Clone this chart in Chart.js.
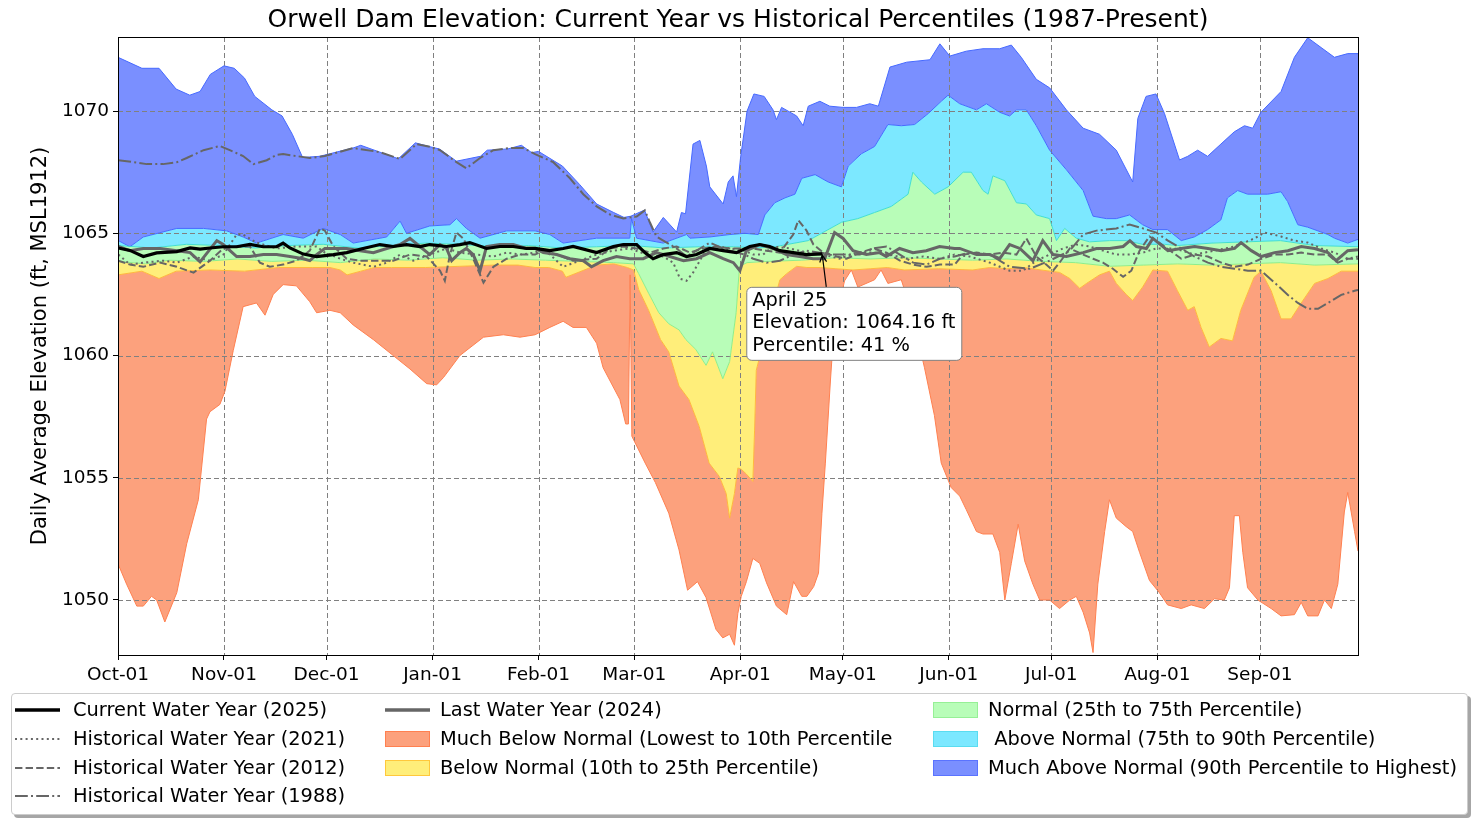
<!DOCTYPE html>
<html lang="en">
<head>
<meta charset="UTF-8">
<title>Orwell Dam Elevation</title>
<script src="https://cdn.jsdelivr.net/npm/chart.js"></script>
<style>
  body { margin: 0; background: #fff; font-family: 'DejaVu Sans', sans-serif; }
  .wrap { position: relative; width: 1476px; height: 824px; }
  #legenda {
    position: absolute; left: 11px; top: 693px; width: 1455px; height: 120px;
    border: 1px solid #ccc; border-radius: 4px; background: #fff;
    box-shadow: 3px 3px 0 rgba(0, 0, 0, 0.35);
  }
  .item-simbolo { position: absolute; }
  .item-texto { position: absolute; font-size: 19.4px; line-height: 22px; white-space: pre; color: #000; }
</style>
</head>
<body>
<div class="wrap">
  <canvas id="grafico" width="1476" height="824"></canvas>
  <div id="legenda"></div>
</div>
<script>
// x values are days since Oct-01 of the water year
const monthDays = [0, 31, 61, 92, 123, 151, 182, 212, 243, 273, 304, 334];
const monthLabels = ['Oct-01', 'Nov-01', 'Dec-01', 'Jan-01', 'Feb-01', 'Mar-01', 'Apr-01', 'May-01', 'Jun-01', 'Jul-01', 'Aug-01', 'Sep-01'];
const yTicks = [1050, 1055, 1060, 1065, 1070];

// historical percentile curves
const minDays = [0.1, 2.5, 5.5, 7.4, 9.8, 11.3, 13.7, 17.2, 20.1, 23.5, 25.9, 26.9, 29.8, 31.3, 33.7, 36.6, 40.5, 43, 45.4, 48.3, 52.2, 56.1, 58.1, 62, 65, 68.8, 74.7, 80.5, 85.4, 90.3, 93.2, 95.2, 100, 106.9, 112.7, 117.6, 122, 126.3, 130.2, 133.1, 137, 140, 141.9, 146.8, 148.5, 149.3, 149.8, 150.3, 154.2, 157.2, 161.1, 164.1, 166.6, 169.5, 172, 174.9, 176.9, 178.9, 180.3, 181.3, 182.3, 183.8, 185.7, 187.7, 189.7, 192.6, 195.6, 197.6, 200, 201.5, 203.5, 204.9, 205.9, 206.9, 208.4, 209.4, 210.6, 212.5, 214.5, 216.4, 221.3, 223.2, 225.2, 229.1, 232, 235.9, 238.8, 240.8, 243.7, 246.2, 248.1, 251.1, 253, 255.9, 257.9, 259.4, 261.3, 263.3, 265.2, 267.6, 269.6, 272.5, 275.4, 278.4, 280.3, 282.3, 284.2, 285.2, 286.6, 288.6, 290, 292, 294.9, 296.8, 298.8, 301.7, 304.6, 307, 311, 313.9, 317.8, 320.7, 323.6, 325.1, 326.5, 328, 329, 330.4, 333.4, 337.3, 340.2, 344.1, 346.1, 348, 351, 352.9, 354.9, 356.8, 358.7, 359.7, 361.7, 362.7];
const minVals = [1051.45, 1050.65, 1049.75, 1049.75, 1050.15, 1050.0, 1049.1, 1050.3, 1052.3, 1054.1, 1057.4, 1057.7, 1058.0, 1058.55, 1060.2, 1062.0, 1062.15, 1061.65, 1062.5, 1062.9, 1062.85, 1062.2, 1061.75, 1061.85, 1061.75, 1061.25, 1060.65, 1060.0, 1059.45, 1058.85, 1058.8, 1059.1, 1060.0, 1060.75, 1060.85, 1060.75, 1060.85, 1061.15, 1061.4, 1061.15, 1061.15, 1060.5, 1059.5, 1058.2, 1057.2, 1057.2, 1063.3, 1056.7, 1055.6, 1054.8, 1053.55, 1052.05, 1050.4, 1050.75, 1050.1, 1048.8, 1048.45, 1048.6, 1048.15, 1049.45, 1050.15, 1050.75, 1051.7, 1051.5, 1050.7, 1049.75, 1049.4, 1050.75, 1050.15, 1050.15, 1050.55, 1051.1, 1053.55, 1055.6, 1059.0, 1061.05, 1061.85, 1063.05, 1063.5, 1062.8, 1063.1, 1063.5, 1062.95, 1063.1, 1061.85, 1059.5, 1057.55, 1055.6, 1054.6, 1054.25, 1053.7, 1052.8, 1052.7, 1052.7, 1051.95, 1050.0, 1051.5, 1053.1, 1051.6, 1050.65, 1050.0, 1050.0, 1049.65, 1050.0, 1050.15, 1049.5, 1048.65, 1047.85, 1050.65, 1052.8, 1054.1, 1053.35, 1053.0, 1052.8, 1051.95, 1050.8, 1050.3, 1049.8, 1049.65, 1049.8, 1049.65, 1050.05, 1050.0, 1050.5, 1053.45, 1053.45, 1051.95, 1050.5, 1050.0, 1049.65, 1049.35, 1049.4, 1049.9, 1049.35, 1049.35, 1050.0, 1049.65, 1050.65, 1053.6, 1054.4, 1052.8, 1052.0];

const p10Days = [0, 7, 12, 17, 27, 37, 47, 57, 62, 65, 67, 71, 75, 80, 90, 100, 110, 117, 122, 126, 130, 131, 140, 145, 149, 150.8, 152.3, 155.2, 158.7, 161.1, 164.1, 167, 170, 172.9, 175.9, 177.9, 178.9, 180.3, 181.3, 182.3, 183.8, 185.7, 186.2, 186.7, 187.7, 189.7, 193.6, 195.6, 198.5, 201.5, 205.4, 210, 215, 220, 225, 230, 240, 250, 255, 260, 265, 270, 275.4, 278.4, 281.3, 283.3, 287.1, 290, 292, 294.9, 296.8, 299.7, 302.7, 307, 309.9, 312.9, 314.8, 316.8, 319.2, 322.6, 326, 328.4, 332.3, 334.3, 337.3, 340.2, 343.1, 346.1, 350, 353.9, 357.8, 362.7];
const p10Vals = [1063.3, 1063.45, 1063.15, 1063.45, 1063.5, 1063.45, 1063.6, 1063.6, 1063.6, 1063.5, 1063.3, 1063.45, 1063.6, 1063.6, 1063.6, 1063.65, 1063.7, 1063.7, 1063.6, 1063.6, 1063.45, 1063.2, 1063.7, 1063.75, 1063.6, 1063.5, 1062.7, 1061.85, 1060.65, 1060.15, 1058.75, 1058.2, 1057.1, 1055.6, 1055.05, 1054.35, 1053.35, 1054.35, 1055.4, 1055.35, 1055.15, 1054.85, 1056.95, 1059.4, 1059.95, 1061.05, 1063.1, 1063.35, 1063.65, 1063.6, 1063.6, 1063.55, 1063.5, 1063.55, 1063.6, 1063.5, 1063.55, 1063.5, 1063.6, 1063.55, 1063.6, 1063.5, 1063.4, 1063.15, 1062.75, 1062.95, 1063.3, 1063.45, 1062.95, 1062.5, 1062.25, 1062.8, 1063.5, 1063.45, 1062.65, 1061.85, 1062.0, 1061.15, 1060.35, 1060.7, 1060.6, 1061.85, 1063.2, 1063.45, 1062.65, 1061.5, 1061.5, 1062.15, 1062.95, 1063.15, 1063.45, 1063.45];

const p25Days = [0, 8, 15, 25, 35, 45, 55, 65, 75, 85, 95, 105, 115, 125, 135, 145, 150.8, 152.3, 155.2, 158.2, 161.1, 164.1, 166.1, 169, 172, 173.9, 176.9, 178.9, 180.8, 181.8, 184, 190, 200, 210, 220, 230, 240, 250, 260, 270, 280, 290, 300, 310, 320, 330, 340, 350, 362.7];
const p25Vals = [1063.85, 1063.75, 1063.9, 1063.85, 1063.95, 1063.85, 1063.9, 1063.8, 1063.95, 1063.9, 1064.0, 1063.9, 1063.95, 1063.9, 1063.85, 1063.8, 1063.75, 1063.35, 1062.55, 1061.75, 1061.3, 1061.05, 1060.65, 1060.25, 1059.6, 1060.15, 1059.05, 1059.75, 1061.75, 1063.65, 1063.8, 1063.85, 1063.9, 1064.0, 1063.95, 1064.0, 1063.95, 1063.9, 1063.95, 1063.85, 1063.8, 1063.65, 1063.7, 1063.75, 1063.7, 1063.75, 1063.8, 1063.7, 1063.75];

const p75Days = [0, 10, 20, 30, 40, 50, 60, 70, 80, 90, 100, 110, 120, 130, 140, 150, 160, 170, 180, 187, 192.1, 201.9, 211.6, 216.4, 221.3, 226.2, 231.1, 232.5, 235, 238.9, 242.8, 247.2, 249.6, 253, 254.5, 255.9, 259.4, 262.8, 265.7, 268.6, 272.5, 274.5, 276.9, 280.3, 284.2, 290, 294.9, 299.7, 306.1, 310, 320, 330, 340, 350, 362.7];
const p75Vals = [1064.5, 1064.4, 1064.55, 1064.5, 1064.4, 1064.5, 1064.55, 1064.4, 1064.5, 1064.6, 1064.55, 1064.45, 1064.5, 1064.4, 1064.45, 1064.5, 1064.4, 1064.45, 1064.45, 1064.4, 1064.45, 1064.7, 1065.45, 1065.6, 1065.85, 1066.1, 1066.6, 1067.5, 1067.1, 1066.6, 1066.9, 1067.5, 1067.5, 1066.75, 1066.6, 1067.35, 1067.15, 1066.25, 1066.2, 1065.75, 1065.6, 1064.7, 1065.2, 1064.8, 1064.65, 1064.7, 1064.7, 1064.55, 1064.55, 1064.5, 1064.6, 1064.65, 1064.7, 1064.5, 1064.45];

const p90Days = [0.1, 3.5, 7.4, 17.2, 25, 31.8, 36.6, 40.5, 48.3, 54.2, 60, 65, 68.8, 78.6, 82.5, 84.4, 91.2, 97.1, 99, 101.9, 105.9, 113.7, 122, 126.3, 130.2, 140, 149.7, 150.2, 151.7, 159.5, 166.3, 167.3, 173.1, 179, 183.3, 187.3, 189.2, 192.1, 195.1, 198, 200, 203.9, 207.7, 211.6, 213.6, 217.4, 221.3, 225.2, 229.1, 233, 237, 240.8, 242.8, 246.2, 251.1, 254, 257.9, 260.8, 262.8, 265.7, 268.6, 272.5, 277.4, 282.3, 285.2, 289.1, 292, 295.9, 299.7, 302.7, 307, 311, 314.8, 318.7, 322.6, 324.5, 327.5, 330.4, 336.3, 340.2, 342.1, 345.1, 348, 353.9, 355.8, 359.7, 362.7];
const p90Vals = [1064.7, 1064.45, 1064.85, 1065.2, 1065.2, 1065.1, 1064.85, 1064.6, 1064.95, 1064.8, 1065.2, 1064.95, 1064.6, 1064.85, 1065.5, 1065.0, 1065.3, 1065.35, 1065.6, 1065.2, 1064.8, 1065.1, 1065.1, 1064.95, 1064.6, 1064.8, 1064.8, 1065.6, 1064.8, 1064.6, 1064.95, 1064.8, 1064.85, 1064.95, 1065.0, 1064.95, 1065.75, 1066.25, 1066.45, 1066.6, 1067.25, 1067.4, 1067.1, 1066.9, 1067.75, 1068.25, 1068.55, 1069.45, 1069.4, 1069.45, 1069.9, 1070.4, 1070.65, 1070.3, 1070.05, 1070.3, 1069.95, 1069.8, 1070.05, 1070.05, 1069.4, 1068.4, 1067.6, 1066.75, 1065.7, 1065.6, 1065.6, 1065.75, 1065.35, 1065.15, 1065.15, 1064.7, 1064.85, 1065.15, 1065.55, 1066.45, 1066.75, 1066.6, 1066.6, 1066.7, 1066.3, 1065.35, 1065.25, 1064.95, 1064.8, 1064.6, 1064.75];

const maxDays = [0, 7, 12, 17, 21, 24, 27, 31, 34, 37, 40, 45, 48, 51, 54, 59, 69, 71, 77, 82, 87, 91, 94, 99, 106, 108, 114, 118, 121, 123, 130, 135, 140, 145, 148, 150, 154, 156.5, 159.5, 163.4, 164.8, 166, 168.2, 170.2, 172.1, 173.1, 177, 178.5, 179.9, 180.9, 182.1, 184, 186, 189, 191.6, 192.6, 194.1, 198.5, 200.4, 201.9, 205.3, 208.2, 212.1, 216, 219.9, 222.4, 225.8, 230.7, 237.5, 240.4, 243.3, 248.1, 253, 257.9, 261.3, 264.2, 268.6, 272.5, 277.4, 282.3, 287.1, 292, 296.8, 298.3, 300.7, 303.6, 306.1, 310.5, 312.9, 315.8, 318.7, 322.6, 326.5, 329.5, 331.9, 334.3, 340.2, 344.1, 348, 351.9, 355.8, 359.7, 362.7];
const maxVals = [1072.2, 1071.75, 1071.75, 1070.9, 1070.65, 1070.8, 1071.5, 1071.85, 1071.75, 1071.35, 1070.6, 1070.05, 1069.8, 1069.05, 1068.1, 1068.15, 1068.5, 1068.6, 1068.3, 1068.05, 1068.7, 1068.55, 1068.45, 1067.95, 1068.15, 1068.4, 1068.45, 1068.6, 1068.3, 1068.35, 1067.75, 1067.0, 1066.2, 1065.85, 1065.65, 1065.7, 1065.95, 1065.05, 1065.65, 1065.05, 1065.85, 1065.8, 1068.65, 1068.8, 1067.75, 1066.9, 1066.2, 1067.1, 1067.35, 1066.5, 1068.1, 1070.0, 1070.7, 1070.6, 1070.05, 1069.65, 1070.15, 1069.8, 1069.4, 1070.2, 1070.4, 1070.2, 1070.15, 1070.15, 1070.3, 1070.2, 1071.8, 1072.0, 1072.1, 1072.75, 1072.25, 1072.45, 1072.55, 1072.55, 1072.7, 1072.2, 1071.3, 1070.95, 1070.05, 1069.3, 1069.05, 1068.4, 1067.1, 1069.7, 1070.6, 1070.7, 1069.9, 1068.0, 1068.15, 1068.4, 1068.15, 1068.65, 1069.15, 1069.4, 1069.3, 1069.95, 1070.8, 1072.2, 1073.0, 1072.6, 1072.2, 1072.35, 1072.35];

// water years
const curDays = [0, 3.5, 7.4, 11.3, 17.2, 21.1, 24, 26.9, 30.8, 34.7, 38.6, 42.5, 46.4, 48.3, 50.3, 54.2, 58.1, 63, 66.9, 71.7, 76.6, 80.5, 84.4, 88.3, 91.2, 96.1, 100, 102.9, 107.8, 111.7, 115.6, 119.5, 122, 126.3, 130.2, 133.1, 140, 144.9, 147.8, 151.7, 154.1, 156.5, 159.5, 163.4, 166.3, 169.2, 173.1, 177, 180.9, 184.8, 187.7, 190.6, 193.6, 197.5, 201.4, 206];
const curVals = [1064.4, 1064.3, 1064.05, 1064.2, 1064.25, 1064.4, 1064.35, 1064.4, 1064.45, 1064.45, 1064.55, 1064.45, 1064.45, 1064.6, 1064.4, 1064.15, 1064.05, 1064.13, 1064.21, 1064.38, 1064.54, 1064.46, 1064.54, 1064.46, 1064.54, 1064.46, 1064.54, 1064.62, 1064.38, 1064.46, 1064.46, 1064.38, 1064.38, 1064.29, 1064.38, 1064.46, 1064.21, 1064.46, 1064.54, 1064.54, 1064.21, 1063.96, 1064.13, 1064.21, 1064.05, 1064.13, 1064.38, 1064.29, 1064.21, 1064.46, 1064.54, 1064.46, 1064.29, 1064.21, 1064.13, 1064.16];

const lastDays = [0.1, 3.5, 7.4, 12.3, 17.2, 21.1, 24, 28.9, 30.8, 34.7, 38.6, 42.5, 46.4, 50.3, 54.2, 56.1, 58.1, 60.5, 63, 66.9, 70.8, 74.7, 78.6, 82.5, 85.4, 88.3, 91.2, 94.2, 96.1, 97.6, 100, 101.9, 103.9, 105.9, 107.8, 111.7, 115.6, 119.5, 122, 124.4, 128.3, 132.2, 136.1, 138.5, 141.9, 145.8, 149.7, 153.6, 157.5, 161.4, 165.4, 169.2, 173.1, 177, 180, 181.9, 183.8, 187.7, 191.6, 195.5, 199.4, 203.3, 206.7, 209.6, 212.1, 215, 218.9, 222.8, 224.7, 228.6, 232.5, 236.4, 240.3, 244.7, 246.2, 251.1, 255, 257.9, 260.8, 263.8, 267.6, 270.5, 273.5, 277.4, 282.3, 286.2, 290.1, 294, 296, 297.9, 300.8, 302.7, 307.1, 311, 314.9, 318.8, 322.7, 326.6, 328.5, 331.5, 334.4, 338.3, 342.2, 346.1, 350, 353.9, 356.3, 359.7, 362.7];
const lastVals = [1064.46, 1064.29, 1064.38, 1064.38, 1064.29, 1064.21, 1063.83, 1064.7, 1064.54, 1064.05, 1064.05, 1064.13, 1064.13, 1064.05, 1063.96, 1063.88, 1064.13, 1064.38, 1064.38, 1064.38, 1064.29, 1064.21, 1064.38, 1064.54, 1064.79, 1064.46, 1064.13, 1064.54, 1064.38, 1063.88, 1064.21, 1064.38, 1064.13, 1063.47, 1064.46, 1064.54, 1064.54, 1064.38, 1064.38, 1064.21, 1064.13, 1063.96, 1063.88, 1063.63, 1063.88, 1064.05, 1063.96, 1063.96, 1064.21, 1064.05, 1063.88, 1063.96, 1064.21, 1063.96, 1063.8, 1063.47, 1064.29, 1064.54, 1064.38, 1064.13, 1064.05, 1063.96, 1063.96, 1065.03, 1064.79, 1064.29, 1064.13, 1064.21, 1064.05, 1064.38, 1064.21, 1064.29, 1064.46, 1064.38, 1064.38, 1064.13, 1064.13, 1063.96, 1064.54, 1064.38, 1063.88, 1064.7, 1064.13, 1064.05, 1064.21, 1064.38, 1064.38, 1064.46, 1064.7, 1064.46, 1064.38, 1064.79, 1064.29, 1064.38, 1064.46, 1064.38, 1064.29, 1064.38, 1064.62, 1064.29, 1064.05, 1064.21, 1064.29, 1064.46, 1064.38, 1064.21, 1063.88, 1064.29, 1064.33];

const y2021Days = [0.1, 3.5, 7.4, 13.2, 17.2, 22.1, 26.9, 30.8, 34.7, 36.6, 40.5, 46.4, 52.2, 58.1, 60.5, 65, 68.8, 74.7, 78.6, 82.5, 86.4, 91.2, 96.1, 100, 104.9, 109.8, 113.7, 117.6, 122, 124.4, 130.2, 135.1, 140, 144.9, 149.7, 154.6, 159.5, 162.4, 164.4, 166.3, 168.2, 171.2, 175.1, 179, 183.3, 185.8, 188.7, 191.6, 196.5, 201.4, 206.3, 211.1, 216, 220.9, 225.8, 230.7, 235.5, 240.4, 244.7, 249.1, 255, 260.8, 264.7, 268.6, 272.5, 276.4, 280.3, 284.2, 288.1, 292, 295.9, 299.8, 303.7, 309, 314.9, 320.7, 326.6, 332.4, 335.4, 340.2, 344.1, 348, 351.9, 355.8, 359.7, 362.7];
const y2021Vals = [1064.13, 1063.72, 1063.8, 1063.88, 1063.8, 1064.05, 1063.88, 1064.13, 1064.95, 1064.95, 1064.62, 1064.38, 1064.46, 1064.46, 1064.21, 1063.96, 1063.8, 1063.63, 1063.8, 1064.13, 1063.88, 1064.13, 1064.38, 1064.21, 1064.13, 1064.05, 1064.21, 1064.13, 1064.21, 1064.38, 1063.63, 1063.88, 1064.13, 1064.29, 1064.38, 1064.13, 1064.05, 1063.8, 1063.14, 1063.06, 1063.39, 1064.13, 1064.46, 1064.38, 1064.29, 1064.13, 1064.13, 1064.46, 1064.38, 1064.21, 1064.13, 1063.96, 1064.21, 1064.21, 1064.13, 1063.96, 1064.05, 1063.96, 1064.13, 1064.05, 1063.8, 1063.47, 1063.47, 1063.88, 1064.13, 1064.38, 1064.54, 1064.46, 1064.29, 1064.13, 1064.13, 1064.21, 1064.38, 1064.38, 1064.13, 1064.29, 1064.46, 1064.79, 1065.03, 1064.87, 1064.7, 1064.62, 1064.38, 1064.21, 1063.96, 1064.05];

const y2012Days = [0.1, 3.5, 7.4, 12.3, 17.2, 22.1, 26.9, 30.8, 34.7, 38.6, 41.5, 44.4, 48.3, 52.2, 56.1, 59.1, 60.5, 63, 66.9, 70.8, 75.7, 80.5, 85.4, 90.3, 94.2, 95.6, 97.1, 99, 101, 103.9, 106.9, 109.8, 113.7, 117.6, 122, 124.4, 128.3, 133.1, 140, 143.9, 147.8, 151.7, 155.6, 159.5, 163.4, 167.3, 171.2, 175.1, 179, 183.3, 185.8, 189.7, 193.6, 197.5, 199, 201.4, 203.4, 206.3, 210.2, 213.1, 217, 220.9, 224.8, 228.7, 232.6, 236.5, 240.4, 244.7, 247.2, 251.1, 255, 258.9, 262.8, 265.7, 268.6, 271.5, 273.5, 275.4, 278.4, 282.3, 285.2, 288.1, 291, 294, 296.4, 298.8, 301.7, 303.7, 306.1, 311, 314.9, 318.8, 322.7, 326.6, 330.5, 334.4, 338.3, 342.2, 346.1, 350, 353.9, 356.8, 359.7, 362.7];
const y2012Vals = [1063.88, 1063.72, 1063.63, 1063.8, 1063.63, 1063.39, 1063.88, 1064.38, 1064.46, 1064.46, 1063.8, 1063.63, 1063.72, 1063.88, 1064.29, 1065.2, 1065.11, 1064.46, 1063.96, 1063.88, 1063.88, 1063.88, 1064.13, 1064.05, 1063.47, 1063.06, 1064.13, 1065.03, 1064.79, 1063.96, 1062.98, 1063.63, 1063.96, 1064.13, 1064.13, 1064.29, 1064.13, 1063.88, 1063.96, 1064.38, 1064.46, 1064.38, 1064.21, 1064.38, 1064.46, 1064.21, 1064.38, 1064.46, 1064.38, 1064.38, 1064.38, 1064.29, 1064.21, 1064.95, 1065.53, 1065.11, 1064.54, 1064.21, 1064.05, 1063.96, 1064.21, 1064.38, 1064.21, 1063.88, 1063.72, 1063.63, 1063.72, 1063.72, 1064.13, 1064.21, 1064.13, 1064.21, 1064.13, 1064.79, 1064.05, 1063.72, 1063.47, 1063.8, 1064.38, 1064.13, 1063.96, 1063.8, 1063.55, 1063.22, 1063.47, 1064.29, 1064.87, 1064.7, 1064.46, 1063.96, 1064.13, 1064.05, 1063.8, 1063.63, 1063.72, 1063.96, 1064.13, 1064.13, 1064.21, 1064.13, 1064.13, 1063.8, 1063.96, 1063.96];

const y1988Days = [0.1, 4.5, 8.4, 13.2, 17.2, 20.1, 25, 29.8, 32.7, 36.6, 39.6, 43.5, 46.4, 48.3, 52.2, 56.1, 60.5, 68.8, 76.6, 82.5, 87.3, 91.2, 94.2, 99, 101.9, 105.9, 109.8, 114.7, 118.5, 122, 127.3, 132.2, 136.1, 140, 143.9, 147.8, 151.7, 154.1, 155.6, 157.5, 160.5, 163.4, 166.3, 169.2, 173.1, 177, 180.9, 183.3, 185.8, 189.7, 193.6, 197.5, 201.4, 205.3, 209.2, 213.1, 217, 220.9, 224.8, 228.7, 232.6, 236.5, 240.4, 244.7, 249.1, 255, 260.8, 266.7, 272.5, 278.4, 282.3, 286.2, 292, 295.9, 299.8, 303.7, 307.1, 311, 314.9, 318.8, 322.7, 326.6, 330.5, 334.4, 338.3, 342.2, 345.1, 348.1, 351, 353.9, 357.8, 361.7, 362.7];
const y1988Vals = [1067.99, 1067.91, 1067.83, 1067.83, 1067.91, 1068.08, 1068.4, 1068.57, 1068.4, 1068.16, 1067.83, 1067.99, 1068.21, 1068.24, 1068.16, 1068.08, 1068.16, 1068.49, 1068.32, 1068.04, 1068.65, 1068.54, 1068.4, 1067.91, 1067.66, 1068.08, 1068.4, 1068.49, 1068.49, 1068.24, 1067.91, 1067.25, 1066.6, 1066.1, 1065.77, 1065.61, 1065.69, 1065.94, 1065.44, 1064.87, 1064.62, 1064.38, 1064.05, 1064.29, 1064.62, 1064.38, 1064.21, 1064.13, 1063.96, 1063.8, 1063.88, 1064.13, 1064.29, 1064.21, 1064.13, 1064.13, 1064.13, 1064.38, 1064.46, 1064.13, 1063.8, 1063.72, 1063.96, 1064.05, 1064.21, 1064.13, 1063.63, 1063.55, 1063.88, 1064.29, 1064.95, 1065.11, 1065.2, 1065.36, 1065.2, 1065.03, 1064.7, 1064.38, 1064.05, 1063.8, 1063.63, 1063.55, 1063.47, 1063.47, 1062.98, 1062.48, 1062.15, 1061.91, 1061.91, 1062.15, 1062.48, 1062.65, 1062.68];

// annotated point on the current year
const notaDia = 206;
const notaValor = 1064.16;
const notaLinhas = ['April 25', 'Elevation: 1064.16 ft', 'Percentile: 41 %'];

const FONTE = "'DejaVu Sans', 'Liberation Sans', sans-serif";
Chart.defaults.font.family = FONTE;
Chart.defaults.color = '#000';

function pontos(dias, valores) {
  return dias.map((d, i) => ({ x: d, y: valores[i] }));
}

const cinza = '#666666';

function linhaAno(label, dias, valores, cor, largura, dash) {
  return {
    label: label,
    data: pontos(dias, valores),
    borderColor: cor,
    borderWidth: largura,
    borderDash: dash,
    borderCapStyle: 'butt',
    pointRadius: 0,
    fill: false,
    tension: 0
  };
}

function faixa(label, dias, valores, borda, preenchimento) {
  return {
    label: label,
    data: pontos(dias, valores),
    borderColor: borda,
    borderWidth: 1,
    backgroundColor: preenchimento,
    pointRadius: 0,
    fill: preenchimento ? '-1' : false,
    tension: 0
  };
}

const datasets = [
  linhaAno('Current Water Year (2025)', curDays, curVals, '#000000', 3.2, []),
  linhaAno('Last Water Year (2024)', lastDays, lastVals, cinza, 3, []),
  linhaAno('Historical Water Year (2021)', y2021Days, y2021Vals, cinza, 2, [2, 3.3]),
  linhaAno('Historical Water Year (2012)', y2012Days, y2012Vals, cinza, 2, [7.4, 3.2]),
  linhaAno('Historical Water Year (1988)', y1988Days, y1988Vals, cinza, 2, [12.8, 3.2, 2, 3.2]),
  faixa('min', minDays, minVals, 'rgb(255,128,80)', null),
  faixa('Much Below Normal', p10Days, p10Vals, 'rgb(255,185,60)', 'rgb(252,161,125)'),
  faixa('Below Normal', p25Days, p25Vals, 'rgb(140,238,140)', 'rgb(255,238,122)'),
  faixa('Normal', p75Days, p75Vals, 'rgb(64,222,210)', 'rgb(184,253,184)'),
  faixa('Above Normal', p90Days, p90Vals, 'rgb(70,105,255)', 'rgb(124,232,255)'),
  faixa('Much Above Normal', maxDays, maxVals, 'rgb(70,105,255)', 'rgb(122,143,255)')
];

// grid above the filled bands, below the lines (matplotlib order)
const gradePlugin = {
  id: 'grade',
  beforeDatasetsDraw(chart) {
    const { ctx, chartArea, scales } = chart;
    ctx.save();
    ctx.strokeStyle = '#808080';
    ctx.lineWidth = 1;
    ctx.setLineDash([5, 3]);
    monthDays.forEach(d => {
      const x = Math.round(scales.x.getPixelForValue(d)) + 0.5;
      ctx.beginPath();
      ctx.moveTo(x, chartArea.top);
      ctx.lineTo(x, chartArea.bottom);
      ctx.stroke();
    });
    yTicks.forEach(v => {
      const y = Math.round(scales.y.getPixelForValue(v)) + 0.5;
      ctx.beginPath();
      ctx.moveTo(chartArea.left, y);
      ctx.lineTo(chartArea.right, y);
      ctx.stroke();
    });
    ctx.restore();
  }
};

const molduraPlugin = {
  id: 'moldura',
  afterDraw(chart) {
    const { ctx, chartArea, scales } = chart;
    ctx.save();
    // axes frame
    ctx.strokeStyle = '#000';
    ctx.lineWidth = 1;
    ctx.strokeRect(chartArea.left + 0.5, chartArea.top + 0.5, chartArea.right - chartArea.left, chartArea.bottom - chartArea.top);

    // title
    ctx.fillStyle = '#000';
    ctx.font = '25px ' + FONTE;
    ctx.textAlign = 'center';
    ctx.textBaseline = 'middle';
    ctx.fillText('Orwell Dam Elevation: Current Year vs Historical Percentiles (1987-Present)', (chartArea.left + chartArea.right) / 2, 20);

    // annotation with arrow
    const px = scales.x.getPixelForValue(notaDia);
    const py = scales.y.getPixelForValue(notaValor);
    const bx = px - 76, by = py + 33, bw = 215, bh = 73;
    ctx.beginPath();
    ctx.roundRect(bx + 0.5, by + 0.5, bw, bh, 5);
    ctx.fillStyle = '#fff';
    ctx.fill();
    ctx.strokeStyle = '#808080';
    ctx.stroke();

    ctx.strokeStyle = '#000';
    ctx.lineWidth = 1.2;
    ctx.beginPath();
    ctx.moveTo(px + 4, by);
    ctx.lineTo(px, py + 1);
    ctx.stroke();
    const ang = Math.atan2(py + 1 - by, px - (px + 4));
    ctx.beginPath();
    ctx.moveTo(px + 8 * Math.cos(ang + 2.7), py + 1 + 8 * Math.sin(ang + 2.7));
    ctx.lineTo(px, py + 1);
    ctx.lineTo(px + 8 * Math.cos(ang - 2.7), py + 1 + 8 * Math.sin(ang - 2.7));
    ctx.stroke();

    ctx.fillStyle = '#000';
    ctx.font = '19.4px ' + FONTE;
    ctx.textAlign = 'left';
    ctx.textBaseline = 'middle';
    notaLinhas.forEach((t, i) => ctx.fillText(t, bx + 6, by + 14 + i * 22.5));
    ctx.restore();
  }
};

const grafico = new Chart(document.getElementById('grafico'), {
  type: 'line',
  data: { datasets: datasets },
  options: {
    responsive: false,
    animation: false,
    devicePixelRatio: 1,
    layout: { padding: { top: 37, right: 118, bottom: 129, left: 0 } },
    plugins: {
      legend: { display: false },
      tooltip: { enabled: false },
      filler: { drawTime: 'beforeDatasetsDraw' }
    },
    scales: {
      x: {
        type: 'linear',
        min: 0,
        max: 362.7,
        afterBuildTicks: (scale) => { scale.ticks = monthDays.map(v => ({ value: v })); },
        afterFit: (scale) => { scale.height = 40; },
        ticks: {
          autoSkip: false,
          maxRotation: 0,
          padding: 4,
          font: { size: 18.5 },
          color: '#000',
          callback: (v) => monthLabels[monthDays.indexOf(v)]
        },
        grid: { drawOnChartArea: false, tickLength: 5, tickColor: '#000' },
        border: { color: '#000' }
      },
      y: {
        min: 1047.75,
        max: 1073.03,
        afterBuildTicks: (scale) => { scale.ticks = yTicks.map(v => ({ value: v })); },
        afterFit: (scale) => { scale.width = 118; },
        ticks: { padding: 4, font: { size: 18.5 }, color: '#000', callback: (v) => String(v) },
        grid: { drawOnChartArea: false, tickLength: 5, tickColor: '#000' },
        border: { color: '#000' },
        title: {
          display: true,
          text: 'Daily Average Elevation (ft, MSL1912)',
          font: { size: 21 },
          color: '#000',
          padding: { top: 28, bottom: 0 }
        }
      }
    }
  },
  plugins: [gradePlugin, molduraPlugin]
});

// legend in three columns, filled column by column like the original
const legendaItens = [
  { texto: 'Current Water Year (2025)', col: 0, lin: 0, tipo: 'linha', cor: '#000', larg: 3.5, dash: '' },
  { texto: 'Historical Water Year (2021)', col: 0, lin: 1, tipo: 'linha', cor: cinza, larg: 2, dash: '2 3.3' },
  { texto: 'Historical Water Year (2012)', col: 0, lin: 2, tipo: 'linha', cor: cinza, larg: 2, dash: '7.4 3.2' },
  { texto: 'Historical Water Year (1988)', col: 0, lin: 3, tipo: 'linha', cor: cinza, larg: 2, dash: '12.8 3.2 2 3.2' },
  { texto: 'Last Water Year (2024)', col: 1, lin: 0, tipo: 'linha', cor: cinza, larg: 3.5, dash: '' },
  { texto: 'Much Below Normal (Lowest to 10th Percentile', col: 1, lin: 1, tipo: 'caixa', cor: 'rgb(252,161,125)', borda: 'rgb(255,128,80)' },
  { texto: 'Below Normal (10th to 25th Percentile)', col: 1, lin: 2, tipo: 'caixa', cor: 'rgb(255,238,122)', borda: 'rgb(255,200,60)' },
  { texto: 'Normal (25th to 75th Percentile)', col: 2, lin: 0, tipo: 'caixa', cor: 'rgb(184,253,184)', borda: 'rgb(150,240,150)' },
  { texto: ' Above Normal (75th to 90th Percentile)', col: 2, lin: 1, tipo: 'caixa', cor: 'rgb(124,232,255)', borda: 'rgb(90,220,240)' },
  { texto: 'Much Above Normal (90th Percentile to Highest)', col: 2, lin: 2, tipo: 'caixa', cor: 'rgb(122,143,255)', borda: 'rgb(90,115,255)' }
];
const colSimbolo = [15, 385, 933];
const colTexto = [73, 440, 988];
const linhasY = [710, 739, 768, 796];

const wrap = document.querySelector('.wrap');
legendaItens.forEach(it => {
  const y = linhasY[it.lin];
  const s = document.createElement('div');
  s.className = 'item-simbolo';
  s.style.left = colSimbolo[it.col] + 'px';
  s.style.top = (y - 8) + 'px';
  if (it.tipo === 'linha') {
    s.innerHTML = `<svg width="46" height="16"><line x1="0" y1="8" x2="45" y2="8" stroke="${it.cor}" stroke-width="${it.larg}" stroke-dasharray="${it.dash}"/></svg>`;
  } else {
    s.innerHTML = `<svg width="46" height="16"><rect x="0.5" y="0.5" width="44" height="15" fill="${it.cor}" stroke="${it.borda}"/></svg>`;
  }
  wrap.appendChild(s);
  const t = document.createElement('div');
  t.className = 'item-texto';
  t.style.left = colTexto[it.col] + 'px';
  t.style.top = (y - 11) + 'px';
  t.textContent = it.texto;
  wrap.appendChild(t);
});
</script>
</body>
</html>
